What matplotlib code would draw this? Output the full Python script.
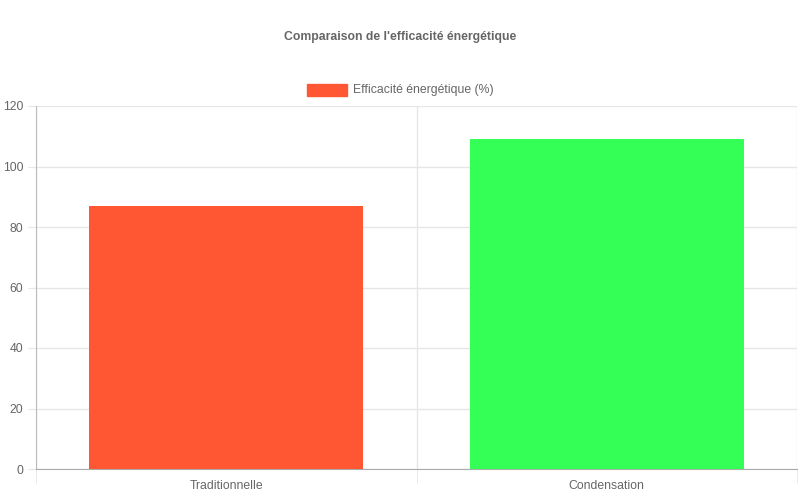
import matplotlib.pyplot as plt
import numpy as np

categories = ['Traditionnelle', 'Condensation']
efficiency = [87, 109]
colors = ['#FF5733', '#33FF57']
y_ticks = [0, 20, 40, 60, 80, 100, 120]

plt.rcParams['font.family'] = ['Liberation Sans', 'DejaVu Sans']
fs = 8.8

fig = plt.figure(figsize=(8, 5), dpi=100)
ax = fig.add_axes([36 / 800, 31 / 500, 761 / 800, 363 / 500])

x = np.arange(len(categories))
ax.bar(x, efficiency, width=0.72, color=colors, zorder=3)

ax.set_xlim(-0.5, len(categories) - 0.5)
ax.set_ylim(0, 120)
ax.set_yticks(y_ticks)
ax.set_xticks(x)
ax.set_xticklabels(categories)
ax.set_xticks(np.arange(len(categories) + 1) - 0.5, minor=True)

ax.grid(True, axis='y', color='#e6e6e6', linewidth=1, zorder=0)
ax.grid(True, axis='x', which='minor', color='#e6e6e6', linewidth=1, zorder=0)
ax.tick_params(axis='x', which='major', length=0, pad=8, labelsize=fs, labelcolor='#666666')
ax.tick_params(axis='x', which='minor', length=10, color='#e6e6e6')
ax.tick_params(axis='y', length=6, color='#e6e6e6', labelsize=fs, labelcolor='#666666', pad=3)

for side in ['top', 'right']:
    ax.spines[side].set_visible(False)
ax.spines['left'].set_color('#bbbbbb')
ax.spines['bottom'].set_color('#aaaaaa')

fig.text(0.5, 1 - 37 / 500, "Comparaison de l'efficacité énergétique", ha='center', va='center',
         fontsize=fs, fontweight='bold', color='#666666')

fig.patches.append(plt.Rectangle((307 / 800, 1 - 96 / 500), 40 / 800, 12 / 500,
                                 transform=fig.transFigure, color=colors[0], figure=fig))
fig.text(353 / 800, 1 - 90 / 500, 'Efficacité énergétique (%)', ha='left', va='center',
         fontsize=fs, color='#666666')

fig.savefig('out.png', dpi=100)
